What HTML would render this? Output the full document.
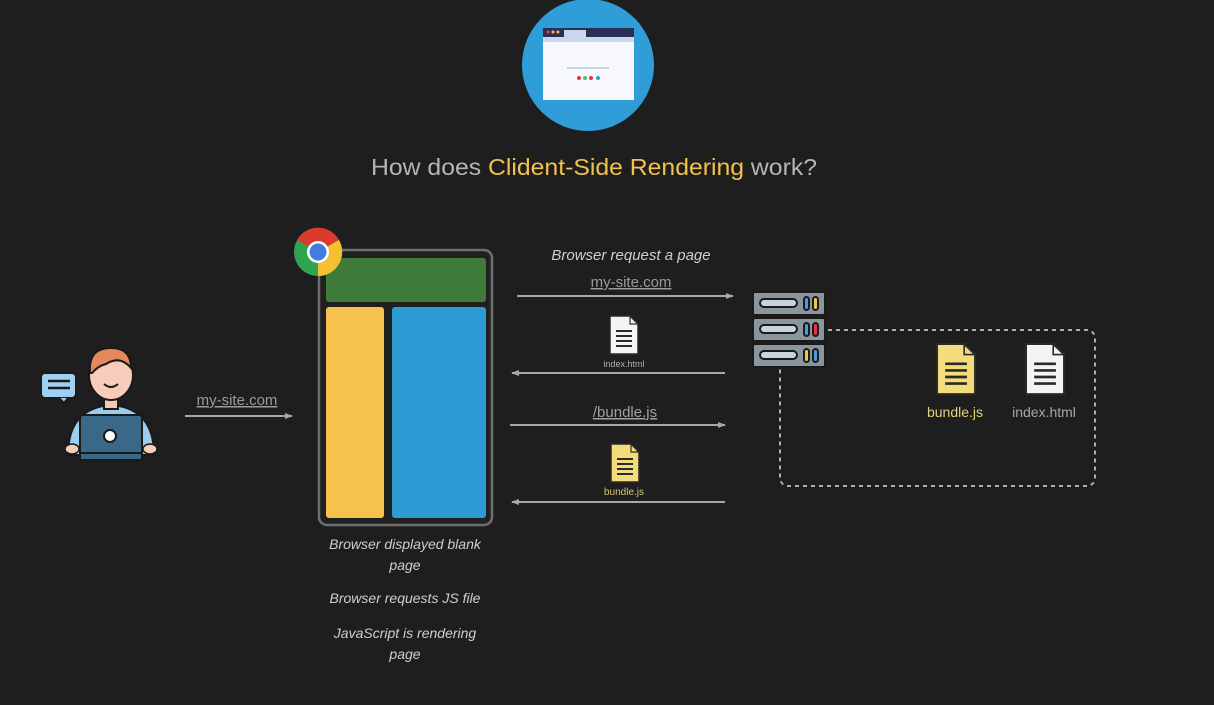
<!DOCTYPE html>
<html><head><meta charset="utf-8"><style>
html,body{margin:0;padding:0;background:#1e1e1e;}
svg{display:block;font-family:"Liberation Sans",sans-serif;}
</style></head><body>
<svg width="1214" height="705" viewBox="0 0 1214 705" xmlns="http://www.w3.org/2000/svg">
<defs>
<marker id="ah" markerWidth="8" markerHeight="8" refX="7" refY="4" orient="auto" markerUnits="userSpaceOnUse"><path d="M0,1 L8,4 L0,7 Z" fill="#a8a8a8"/></marker>
<g id="doc"><path d="M0,0 H20 L28,8 V38 H0 Z" stroke="#2a2a2a" stroke-width="1.5"/><path d="M20,0 V8 H28" fill="none" stroke="#2a2a2a" stroke-width="1.2"/><g stroke="#2a2a2a" stroke-width="2"><line x1="6" y1="15" x2="22" y2="15"/><line x1="6" y1="20" x2="22" y2="20"/><line x1="6" y1="25" x2="22" y2="25"/><line x1="6" y1="30" x2="22" y2="30"/></g></g>
</defs>
<rect width="1214" height="705" fill="#1e1e1e"/>
<!-- top circle -->
<circle cx="588" cy="65" r="66" fill="#2e9dd8"/>
<rect x="543" y="28" width="91" height="72" fill="#f7f8fb"/>
<rect x="543" y="28" width="91" height="9" fill="#2b2f57"/>
<rect x="564" y="30" width="22" height="8" fill="#c7d8ec"/>
<rect x="543" y="37" width="91" height="5" fill="#c7d8ec"/>
<circle cx="548" cy="32" r="1.5" fill="#e44"/><circle cx="553" cy="32" r="1.5" fill="#fb3"/><circle cx="558" cy="32" r="1.5" fill="#fb3"/>
<rect x="567" y="67" width="42" height="2" fill="#c9d3e3"/>
<circle cx="579" cy="78" r="2" fill="#e2334b"/><circle cx="585" cy="78" r="2" fill="#5bc24f"/><circle cx="591" cy="78" r="2" fill="#e2334b"/><circle cx="598" cy="78" r="2" fill="#2e9dd8"/>
<!-- title -->
<text x="371" y="175" font-size="23" fill="#b5b5b5" textLength="446" lengthAdjust="spacingAndGlyphs">How does <tspan fill="#f2c14e">Clident-Side Rendering</tspan> work?</text>
<!-- person -->
<rect x="41" y="373" width="35" height="25" rx="4" fill="#9fd0f3" stroke="#1a1a1a" stroke-width="2"/>
<path d="M59,398 L64,403 L68,398" fill="#9fd0f3" stroke="#1a1a1a" stroke-width="2"/>
<line x1="48" y1="381" x2="70" y2="381" stroke="#1a1a1a" stroke-width="2.5"/><line x1="48" y1="388" x2="70" y2="388" stroke="#1a1a1a" stroke-width="2.5"/>
<path d="M68,455 Q68,408 111,405 Q154,408 154,455 Z" fill="#9ccdf0" stroke="#1a1a1a" stroke-width="2"/>
<rect x="104" y="395" width="14" height="14" fill="#f6c6b0" stroke="#1a1a1a" stroke-width="2"/>
<ellipse cx="111" cy="375" rx="22" ry="25" fill="#f6cdbb" stroke="#1a1a1a" stroke-width="2"/>
<path d="M90,373 Q88,348 111,348 Q131,348 131,368 Q120,355 106,364 Q98,366 92,373 Z" fill="#e4895c" stroke="#1a1a1a" stroke-width="2"/>
<path d="M104,384 Q111,390 118,384" fill="none" stroke="#1a1a1a" stroke-width="2"/>
<rect x="80" y="415" width="62" height="40" rx="3" fill="#3a6888" stroke="#1a1a1a" stroke-width="2"/>
<rect x="80" y="453" width="62" height="7" fill="#3a6888" stroke="#1a1a1a" stroke-width="2"/>
<circle cx="110" cy="436" r="6" fill="#fff" stroke="#1a1a1a" stroke-width="2"/>
<ellipse cx="72" cy="449" rx="7" ry="5" fill="#f6cdbb" stroke="#1a1a1a" stroke-width="1.5"/>
<ellipse cx="150" cy="449" rx="7" ry="5" fill="#f6cdbb" stroke="#1a1a1a" stroke-width="1.5"/>
<!-- arrow 1 -->
<text x="237" y="405" font-size="15" fill="#9a9a9a" text-anchor="middle" text-decoration="underline">my-site.com</text>
<line x1="185" y1="416" x2="292" y2="416" stroke="#a8a8a8" stroke-width="2" marker-end="url(#ah)"/>
<!-- browser -->
<rect x="319" y="250" width="173" height="275" rx="8" fill="#202020" stroke="#6e6e6e" stroke-width="2.5"/>
<rect x="326" y="258" width="160" height="44" rx="3" fill="#3f7b3a"/>
<rect x="326" y="307" width="58" height="211" rx="3" fill="#f7c14d"/>
<rect x="392" y="307" width="94" height="211" rx="3" fill="#2f9bd5"/>
<!-- chrome -->
<circle cx="318" cy="252" r="24" fill="#2ea44f"/>
<path d="M318,252 L297,240 A24,24 0 0 1 339,240 Z" fill="#d93c2d"/>
<path d="M318,252 L339,240 A24,24 0 0 1 318,276 Z" fill="#f3c12f"/>
<path d="M318,252 L339,240 L318,252 Z" fill="#d93c2d"/>
<circle cx="318" cy="252" r="11" fill="#fff"/>
<circle cx="318" cy="252" r="8.5" fill="#3f7de0"/>
<!-- captions -->
<g font-size="14" fill="#cfcfcf" font-style="italic" text-anchor="middle">
<text x="405" y="549">Browser displayed blank</text>
<text x="405" y="570">page</text>
<text x="405" y="603">Browser requests JS file</text>
<text x="405" y="638">JavaScript is rendering</text>
<text x="405" y="659">page</text>
<text x="631" y="260" font-size="15">Browser request a page</text>
</g>
<!-- arrows middle -->
<text x="631" y="287" font-size="15" fill="#9a9a9a" text-anchor="middle" text-decoration="underline">my-site.com</text>
<line x1="517" y1="296" x2="733" y2="296" stroke="#a8a8a8" stroke-width="2" marker-end="url(#ah)"/>
<use href="#doc" x="610" y="316" fill="#f4f4f4"/>
<text x="624" y="367" font-size="9" fill="#b0b0b0" text-anchor="middle">index.html</text>
<line x1="725" y1="373" x2="512" y2="373" stroke="#a8a8a8" stroke-width="2" marker-end="url(#ah)"/>
<text x="625" y="417" font-size="15" fill="#a0a0a0" text-anchor="middle" text-decoration="underline">/bundle.js</text>
<line x1="510" y1="425" x2="725" y2="425" stroke="#a8a8a8" stroke-width="2" marker-end="url(#ah)"/>
<use href="#doc" x="611" y="444" fill="#f5dc7a"/>
<text x="624" y="495" font-size="10" fill="#d8c66f" text-anchor="middle">bundle.js</text>
<line x1="725" y1="502" x2="512" y2="502" stroke="#a8a8a8" stroke-width="2" marker-end="url(#ah)"/>
<!-- dashed box -->
<rect x="780" y="330" width="315" height="156" rx="8" fill="none" stroke="#b0b0b0" stroke-width="2" stroke-dasharray="4,4"/>
<!-- server -->
<g stroke="#1a1a1a" stroke-width="2">
<rect x="753" y="292" width="72" height="23" rx="2" fill="#8a969e"/>
<rect x="753" y="318" width="72" height="23" rx="2" fill="#8a969e"/>
<rect x="753" y="344" width="72" height="23" rx="2" fill="#8a969e"/>
<rect x="760" y="299" width="37" height="8" rx="4" fill="#c8d3da"/>
<rect x="760" y="325" width="37" height="8" rx="4" fill="#c8d3da"/>
<rect x="760" y="351" width="37" height="8" rx="4" fill="#c8d3da"/>
<rect x="804" y="297" width="5" height="13" rx="2.5" fill="#4a9be0"/><rect x="813" y="297" width="5" height="13" rx="2.5" fill="#f3c64a"/>
<rect x="804" y="323" width="5" height="13" rx="2.5" fill="#4a9be0"/><rect x="813" y="323" width="5" height="13" rx="2.5" fill="#e2334b"/>
<rect x="804" y="349" width="5" height="13" rx="2.5" fill="#f3c64a"/><rect x="813" y="349" width="5" height="13" rx="2.5" fill="#4a9be0"/>
</g>
<!-- files in box -->
<use href="#doc" x="0" y="0" fill="#f5dc7a" transform="translate(937,344) scale(1.36,1.32)"/>
<use href="#doc" x="0" y="0" fill="#f4f4f4" transform="translate(1026,344) scale(1.36,1.32)"/>
<text x="955" y="417" font-size="14" fill="#e4d27a" text-anchor="middle">bundle.js</text>
<text x="1044" y="417" font-size="14" fill="#a8a8a8" text-anchor="middle">index.html</text>
</svg>
</body></html>
